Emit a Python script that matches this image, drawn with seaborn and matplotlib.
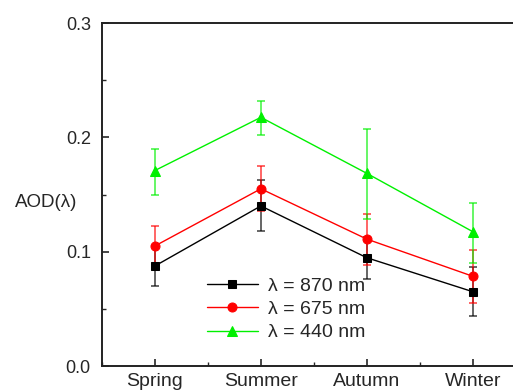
import numpy as np
import pandas as pd

import matplotlib
matplotlib.use('Agg')
import matplotlib.pyplot as plt
import seaborn as sns
from matplotlib.ticker import MultipleLocator, FormatStrFormatter

seasons = ['Spring', 'Summer', 'Autumn', 'Winter']
labels = ['λ = 870 nm', 'λ = 675 nm', 'λ = 440 nm']

aod_870 = [0.0875, 0.140, 0.0947, 0.065]
aod_870_hi = [0.105, 0.1627, 0.113, 0.0869]
aod_870_lo = [0.070, 0.118, 0.0758, 0.0434]

aod_675 = [0.105, 0.155, 0.111, 0.0785]
aod_675_hi = [0.1227, 0.1747, 0.133, 0.1017]
aod_675_lo = [0.088, 0.136, 0.088, 0.0554]

aod_440 = [0.171, 0.2175, 0.1685, 0.1175]
aod_440_hi = [0.190, 0.232, 0.207, 0.143]
aod_440_lo = [0.150, 0.202, 0.129, 0.0904]

colors = ['black', '#ff0000', '#00f000']
markers = ['s', 'o', '^']
msizes = [5.5, 6.5, 7]

sns.set_style('ticks')
plt.rcParams['font.family'] = ['Liberation Sans', 'DejaVu Sans']

fig = plt.figure(figsize=(5.13, 3.92), dpi=100)
ax = fig.add_axes([0.1988, 0.0663, 0.826, 0.875])

pos = np.arange(len(seasons))
series = [(aod_870, aod_870_lo, aod_870_hi), (aod_675, aod_675_lo, aod_675_hi), (aod_440, aod_440_lo, aod_440_hi)]

for (vals, lo, hi), lab, c, m, ms in zip(series, labels, colors, markers, msizes):
    vals = np.array(vals)
    # error bars, a bit see-through like the original
    ax.errorbar(pos, vals, yerr=[vals - np.array(lo), np.array(hi) - vals], fmt='none',
                ecolor=c, elinewidth=1.2, capsize=3, capthick=1.2, alpha=0.7, zorder=2)
    df = pd.DataFrame({'x': pos, 'y': vals})
    sns.lineplot(data=df, x='x', y='y', ax=ax, color=c, marker=m, markersize=ms,
                 markeredgecolor=c, linewidth=1, label=lab, zorder=3)

ax.set_xlim(-0.5, 3.5)
ax.set_ylim(0, 0.3)
ax.set_xticks(pos)
ax.set_xticklabels(seasons)
ax.xaxis.set_minor_locator(MultipleLocator(0.5))
ax.yaxis.set_major_locator(MultipleLocator(0.1))
ax.yaxis.set_minor_locator(MultipleLocator(0.05))
ax.yaxis.set_major_formatter(FormatStrFormatter('%.1f'))
ax.tick_params(which='major', direction='in', length=5, width=1.2)
ax.tick_params(which='minor', direction='in', length=3, width=1)
ax.tick_params(axis='x', labelsize=14, pad=5)
ax.tick_params(axis='y', labelsize=13, pad=8)
ax.set_xlabel('')
ax.set_ylabel('AOD(λ)', rotation=0, fontsize=13.5, va='center', ha='center')
ax.yaxis.set_label_coords(-0.132, 0.478)
for s in ax.spines.values():
    s.set_linewidth(1.4)
    s.set_color('#222222')

ax.legend(loc='lower left', bbox_to_anchor=(0.248, 0.072), frameon=False, fontsize=14,
          handlelength=2.6, labelspacing=0.28, handletextpad=0.55, borderaxespad=0,
          borderpad=0, numpoints=1)

plt.savefig('out.png', dpi=100)
plt.close()
